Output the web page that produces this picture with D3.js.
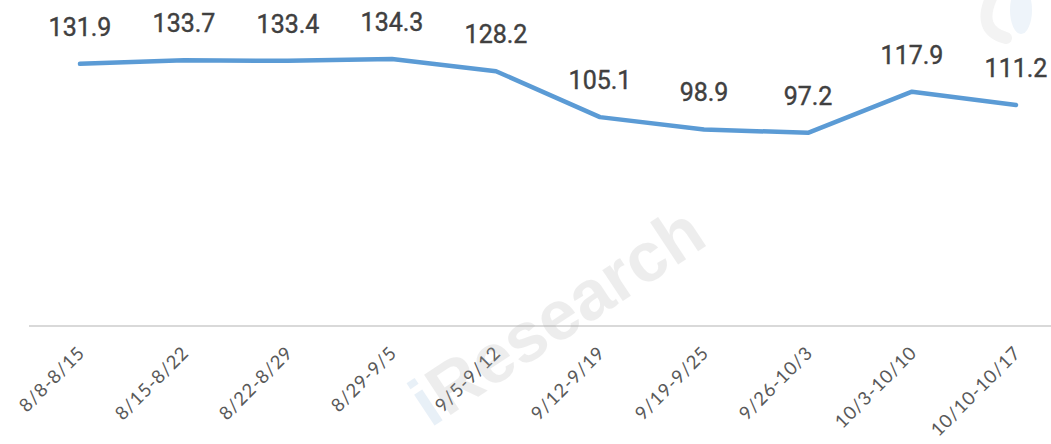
<!DOCTYPE html>
<html>
<head>
<meta charset="utf-8">
<script src="https://cdn.jsdelivr.net/npm/d3@7/dist/d3.min.js"></script>
<style>
  html, body { margin: 0; padding: 0; background: #fff; }
  svg { display: block; }
</style>
</head>
<body>
<svg id="chart" width="1051" height="444"></svg>
<script>
// Weekly index values
const categories = ["8/8-8/15", "8/15-8/22", "8/22-8/29", "8/29-9/5", "9/5-9/12",
  "9/12-9/19", "9/19-9/25", "9/26-10/3", "10/3-10/10", "10/10-10/17"];
const values = [131.9, 133.7, 133.4, 134.3, 128.2, 105.1, 98.9, 97.2, 117.9, 111.2];

const svg = d3.select("#chart");
const W = 1051, H = 444;
const labelFont = "Roboto, 'Liberation Sans', Arial, sans-serif";
const axisFont = "Lato, 'Liberation Sans', Arial, sans-serif";

// Faint logo mark, top right
const logo = svg.append("g");
logo.append("ellipse")
  .attr("cx", 1021).attr("cy", 10).attr("rx", 11).attr("ry", 24)
  .attr("fill", "#eef4fa");
logo.append("path")
  .attr("d", "M992,-4 Q976,30 1006,38")
  .attr("fill", "none")
  .attr("stroke", "#f3f3f3")
  .attr("stroke-width", 12)
  .attr("stroke-linecap", "round");

const x = d3.scaleBand().domain(categories).range([28, 1068]);
const y = d3.scaleLinear().domain([0, 160]).range([326, 8]);

// Category axis
const axis = svg.append("g")
  .attr("transform", `translate(0,${y(0)})`)
  .call(d3.axisBottom(x).tickSize(0).tickPadding(0));
axis.select(".domain").attr("stroke", "#d9d9d9").attr("stroke-width", 2)
  .attr("d", `M29,0H${W}`);
axis.selectAll(".tick text")
  .attr("font-family", axisFont)
  .attr("font-weight", 400)
  .attr("font-size", 18.5)
  .attr("letter-spacing", 0.8)
  .attr("fill", "#595959")
  .attr("text-anchor", "end")
  .attr("dy", null)
  .attr("transform", "translate(6,28) rotate(-45)");

const cx = d => x(d) + x.bandwidth() / 2;

// Series line
const line = d3.line()
  .x((d, i) => cx(categories[i]))
  .y(d => y(d));
svg.append("path")
  .datum(values)
  .attr("d", line)
  .attr("fill", "none")
  .attr("stroke", "#5b9bd5")
  .attr("stroke-width", 4.5)
  .attr("stroke-linecap", "round")
  .attr("stroke-linejoin", "round");

// Value labels
svg.append("g").selectAll("text")
  .data(values)
  .join("text")
  .attr("x", (d, i) => cx(categories[i]))
  .attr("y", d => y(d) - 28)
  .attr("text-anchor", "middle")
  .attr("font-family", labelFont)
  .attr("font-weight", 400)
  .attr("font-size", 25)
  .attr("fill", "#404040")
  .attr("stroke", "#404040")
  .attr("stroke-width", 0.4)
  .text(d => d.toFixed(1));

// Translucent watermark across the plot
const wm = svg.append("text")
  .attr("transform", "translate(570,336) rotate(-33.5)")
  .attr("text-anchor", "middle")
  .attr("font-family", "'Liberation Sans', Arial, sans-serif")
  .attr("font-weight", "bold")
  .attr("font-size", 70)
  .attr("opacity", 0.2);
wm.append("tspan").attr("fill", "#8fb6dc").text("i");
wm.append("tspan").attr("fill", "#aaaaaa").text("Research");
</script>
</body>
</html>
